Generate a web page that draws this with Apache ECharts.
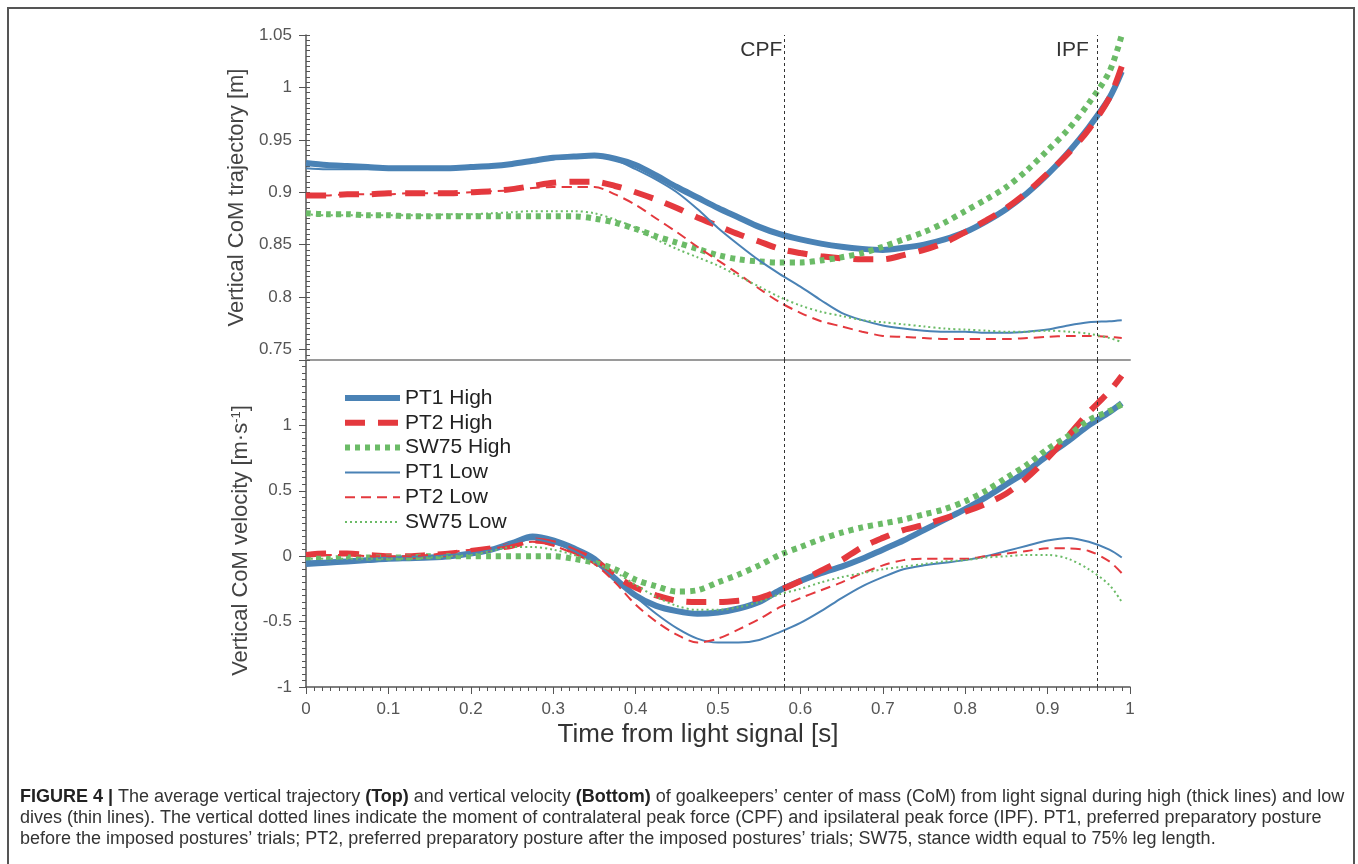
<!DOCTYPE html>
<html>
<head>
<meta charset="utf-8">
<title>Figure 4 - vertical CoM</title>
<script src="https://cdn.jsdelivr.net/npm/echarts@6/dist/echarts.min.js"></script>
<style>
  html, body { margin: 0; padding: 0; background: #fff; }
  #chart { width: 1358px; height: 864px; }
</style>
</head>
<body>
<div id="chart"></div>
<script>
// time from light signal [s], shared by all curves
const timeS = [0, 0.025, 0.05, 0.075, 0.1, 0.125, 0.15, 0.175, 0.2, 0.225,
  0.25, 0.275, 0.3, 0.325, 0.35, 0.375, 0.4, 0.425, 0.45, 0.475,
  0.5, 0.525, 0.55, 0.575, 0.6, 0.625, 0.65, 0.675, 0.7, 0.725,
  0.75, 0.775, 0.8, 0.825, 0.85, 0.875, 0.9, 0.925, 0.95, 0.975,
  0.99];

// top panel: vertical CoM trajectory [m]
const pt1HighPos = [0.928, 0.926, 0.925, 0.924, 0.923, 0.923, 0.923, 0.923, 0.924, 0.925,
  0.927, 0.930, 0.933, 0.934, 0.935, 0.932, 0.926, 0.916, 0.905, 0.895,
  0.885, 0.876, 0.867, 0.860, 0.855, 0.851, 0.848, 0.846, 0.845, 0.847,
  0.850, 0.855, 0.862, 0.872, 0.884, 0.899, 0.917, 0.938, 0.962, 0.990,
  1.015];
const pt2HighPos = [0.897, 0.897, 0.898, 0.898, 0.899, 0.899, 0.899, 0.899, 0.900, 0.901,
  0.903, 0.906, 0.909, 0.910, 0.910, 0.906, 0.900, 0.893, 0.885, 0.876,
  0.868, 0.860, 0.853, 0.846, 0.842, 0.839, 0.837, 0.836, 0.836, 0.840,
  0.845, 0.852, 0.862, 0.873, 0.885, 0.900, 0.918, 0.937, 0.960, 0.990,
  1.020];
const sw75HighPos = [0.880, 0.879, 0.879, 0.878, 0.878, 0.877, 0.877, 0.877, 0.877, 0.877,
  0.877, 0.877, 0.877, 0.877, 0.875, 0.871, 0.865, 0.858, 0.852, 0.846,
  0.840, 0.836, 0.834, 0.833, 0.833, 0.835, 0.838, 0.842, 0.848, 0.855,
  0.862, 0.871, 0.882, 0.893, 0.905, 0.921, 0.940, 0.960, 0.985, 1.015,
  1.050];
const pt1LowPos = [0.923, 0.922, 0.922, 0.922, 0.922, 0.922, 0.922, 0.923, 0.924, 0.925,
  0.927, 0.930, 0.932, 0.933, 0.934, 0.931, 0.922, 0.912, 0.900, 0.884,
  0.866, 0.850, 0.835, 0.822, 0.810, 0.797, 0.785, 0.778, 0.773, 0.770,
  0.768, 0.767, 0.767, 0.766, 0.766, 0.767, 0.769, 0.773, 0.776, 0.777,
  0.778];
const pt2LowPos = [0.897, 0.897, 0.898, 0.898, 0.898, 0.899, 0.899, 0.899, 0.900, 0.901,
  0.902, 0.904, 0.905, 0.905, 0.905, 0.898, 0.888, 0.875, 0.862, 0.848,
  0.835, 0.822, 0.808, 0.795, 0.785, 0.777, 0.772, 0.767, 0.763, 0.762,
  0.761, 0.760, 0.760, 0.760, 0.760, 0.761, 0.762, 0.763, 0.763, 0.762,
  0.761];
const sw75LowPos = [0.879, 0.878, 0.878, 0.878, 0.878, 0.878, 0.878, 0.879, 0.879, 0.880,
  0.881, 0.882, 0.882, 0.882, 0.880, 0.874, 0.866, 0.855, 0.846, 0.838,
  0.830, 0.820, 0.810, 0.800, 0.792, 0.786, 0.782, 0.778, 0.776, 0.774,
  0.772, 0.770, 0.769, 0.768, 0.767, 0.767, 0.768, 0.767, 0.765, 0.761,
  0.757];

// bottom panel: vertical CoM velocity [m/s]
const pt1HighVel = [-0.06, -0.05, -0.04, -0.03, -0.02, -0.015, -0.01, 0.00, 0.02, 0.05,
  0.10, 0.15, 0.12, 0.06, -0.02, -0.17, -0.30, -0.38, -0.42, -0.44,
  -0.43, -0.40, -0.35, -0.26, -0.19, -0.13, -0.08, -0.02, 0.05, 0.12,
  0.20, 0.28, 0.36, 0.45, 0.55, 0.65, 0.77, 0.88, 1.00, 1.10,
  1.17];
const pt2HighVel = [0.01, 0.02, 0.02, 0.01, 0.00, 0.00, 0.01, 0.02, 0.04, 0.06,
  0.08, 0.12, 0.10, 0.04, -0.03, -0.15, -0.24, -0.30, -0.34, -0.35,
  -0.35, -0.34, -0.32, -0.26, -0.19, -0.11, -0.03, 0.07, 0.14, 0.20,
  0.24, 0.29, 0.34, 0.40, 0.48, 0.60, 0.75, 0.92, 1.10, 1.26,
  1.38];
const sw75HighVel = [-0.02, -0.02, -0.01, -0.01, -0.01, -0.01, 0.00, 0.00, 0.00, 0.00,
  0.00, 0.00, 0.00, -0.02, -0.05, -0.10, -0.18, -0.23, -0.27, -0.26,
  -0.20, -0.14, -0.07, 0.01, 0.07, 0.13, 0.18, 0.22, 0.25, 0.28,
  0.32, 0.36, 0.42, 0.50, 0.60, 0.70, 0.82, 0.92, 1.04, 1.11,
  1.16];
const pt1LowVel = [-0.04, -0.035, -0.03, -0.02, -0.01, -0.005, 0.00, 0.01, 0.02, 0.05,
  0.10, 0.13, 0.10, 0.04, -0.05, -0.17, -0.31, -0.44, -0.55, -0.63,
  -0.66, -0.66, -0.64, -0.58, -0.51, -0.42, -0.32, -0.23, -0.16, -0.10,
  -0.07, -0.05, -0.03, 0.00, 0.04, 0.08, 0.12, 0.14, 0.11, 0.05,
  -0.01];
const pt2LowVel = [0.00, 0.01, 0.01, 0.00, 0.00, 0.00, 0.01, 0.03, 0.05, 0.06,
  0.08, 0.11, 0.08, 0.02, -0.06, -0.20, -0.37, -0.50, -0.60, -0.66,
  -0.63, -0.56, -0.48, -0.39, -0.32, -0.26, -0.20, -0.13, -0.07, -0.03,
  -0.02, -0.02, -0.02, 0.00, 0.02, 0.04, 0.06, 0.06, 0.04, -0.04,
  -0.13];
const sw75LowVel = [-0.02, -0.02, -0.02, -0.02, -0.02, -0.02, -0.01, 0.00, 0.01, 0.04,
  0.07, 0.07, 0.05, 0.01, -0.05, -0.12, -0.22, -0.31, -0.38, -0.41,
  -0.41, -0.39, -0.35, -0.29, -0.25, -0.20, -0.16, -0.13, -0.10, -0.08,
  -0.06, -0.04, -0.03, -0.01, 0.00, 0.01, 0.01, -0.02, -0.10, -0.22,
  -0.35];

// CPF / IPF moments [s]
const eventNames = ['CPF', 'IPF'];
const eventTimes = [0.584, 0.956];

const seriesNames = ['PT1 High', 'PT2 High', 'SW75 High', 'PT1 Low', 'PT2 Low', 'SW75 Low'];
const topTicks = [0.75, 0.8, 0.85, 0.9, 0.95, 1, 1.05];

const FONT = '"Liberation Sans", Arial, Helvetica, sans-serif';
const AXIS_COLOR = '#555';

const lineLook = {
  'PT1 High': { color: '#4a82b5', width: 6, type: 'solid' },
  'PT2 High': { color: '#e4393e', width: 6, type: [20, 13] },
  'SW75 High': { color: '#6bbb67', width: 6, type: [5, 5] },
  'PT1 Low': { color: '#4a82b5', width: 2, type: 'solid' },
  'PT2 Low': { color: '#e4393e', width: 2, type: [10, 6] },
  'SW75 Low': { color: '#6bbb67', width: 2, type: [2, 3] }
};

const posData = [pt1HighPos, pt2HighPos, sw75HighPos, pt1LowPos, pt2LowPos, sw75LowPos];
const velData = [pt1HighVel, pt2HighVel, sw75HighVel, pt1LowVel, pt2LowVel, sw75LowVel];

function pairs(values) {
  return timeS.map((t, i) => [t, values[i]]);
}

function makeSeries(name, values, xIdx, yIdx) {
  const look = lineLook[name];
  return {
    name: name,
    type: 'line',
    xAxisIndex: xIdx,
    yAxisIndex: yIdx,
    data: pairs(values),
    symbol: 'none',
    showSymbol: false,
    smooth: 0.3,
    color: look.color,
    lineStyle: { color: look.color, width: look.width, type: look.type, cap: 'butt' }
  };
}

const eventLine = {
  silent: true,
  symbol: 'none',
  label: { show: false },
  lineStyle: { color: '#333', width: 1, type: [3, 3] },
  data: eventTimes.map(t => ({ xAxis: t }))
};

const series = [];
seriesNames.forEach((name, i) => {
  const s = makeSeries(name, posData[i], 0, 0);
  if (i === 0) {
    s.markLine = eventLine;
    s.markPoint = {
      silent: true,
      symbol: 'circle',
      symbolSize: 2,
      itemStyle: { color: 'rgba(0,0,0,0)' },
      label: {
        show: true, formatter: '{b}', position: 'left', distance: 4, offset: [0, 15],
        fontSize: 21, color: '#333', fontFamily: FONT
      },
      data: eventNames.map((n, k) => ({ name: n, coord: [eventTimes[k], 1.05] }))
    };
  }
  series.push(s);
});
seriesNames.forEach((name, i) => {
  const s = makeSeries(name, velData[i], 1, 2);
  if (i === 0) s.markLine = eventLine;
  series.push(s);
});

const captionLines = [
  '{b|FIGURE 4 |} The average vertical trajectory {b|(Top)} and vertical velocity {b|(Bottom)} of goalkeepers’ center of mass (CoM) from light signal during high (thick lines) and low',
  'dives (thin lines). The vertical dotted lines indicate the moment of contralateral peak force (CPF) and ipsilateral peak force (IPF). PT1, preferred preparatory posture',
  'before the imposed postures’ trials; PT2, preferred preparatory posture after the imposed postures’ trials; SW75, stance width equal to 75% leg length.'
];

const chart = echarts.init(document.getElementById('chart'));

chart.setOption({
  animation: false,
  backgroundColor: '#fff',
  textStyle: { fontFamily: FONT },
  grid: [
    { left: 306, top: 35, width: 824, height: 325 },
    { left: 306, top: 360, width: 824, height: 327 }
  ],
  legend: {
    data: seriesNames,
    orient: 'vertical',
    left: 337,
    top: 381,
    itemWidth: 55,
    itemHeight: 14,
    itemGap: 0.8,
    selectedMode: false,
    lineStyle: { width: 'inherit' },
    itemStyle: { color: 'rgba(0,0,0,0)', borderWidth: 0, opacity: 0 },
    textStyle: { fontSize: 21, color: '#222', lineHeight: 24, fontFamily: FONT }
  },
  xAxis: [
    {
      gridIndex: 0, type: 'value', min: 0, max: 1, interval: 0.1,
      axisLine: { show: true, onZero: false, lineStyle: { color: '#9a9a9a', width: 2 } },
      axisTick: { show: false }, axisLabel: { show: false }, splitLine: { show: false }
    },
    {
      gridIndex: 1, type: 'value', min: 0, max: 1, interval: 0.1,
      axisLine: { show: true, onZero: false, lineStyle: { color: AXIS_COLOR, width: 1.5 } },
      axisTick: { show: true, length: 7, lineStyle: { color: AXIS_COLOR } },
      minorTick: { show: true, splitNumber: 10, length: 4, lineStyle: { color: AXIS_COLOR } },
      axisLabel: { fontSize: 17, color: '#555', margin: 14 },
      splitLine: { show: false },
      name: 'Time from light signal [s]',
      nameLocation: 'middle',
      nameGap: 35,
      nameTextStyle: { fontSize: 26, color: '#333', padding: [0, 40, 0, 0] }
    }
  ],
  yAxis: [
    {
      gridIndex: 0, type: 'value', min: 0.74, max: 1.05,
      axisLine: { show: true, onZero: false, lineStyle: { color: AXIS_COLOR, width: 1.5 } },
      axisTick: { show: true, length: 7, customValues: topTicks, lineStyle: { color: AXIS_COLOR } },
      axisLabel: { customValues: topTicks, fontSize: 17, color: '#555', margin: 14 },
      splitLine: { show: false },
      name: 'Vertical CoM trajectory [m]',
      nameLocation: 'middle',
      nameGap: 53,
      nameTextStyle: { fontSize: 22, color: '#444' }
    },
    {
      // minor ticks of the trajectory axis
      gridIndex: 0, type: 'value', min: 0.74, max: 1.05, interval: 0.005,
      axisLine: { show: false },
      axisTick: { show: true, length: 4, lineStyle: { color: AXIS_COLOR } },
      axisLabel: { show: false },
      splitLine: { show: false }
    },
    {
      gridIndex: 1, type: 'value', min: -1, max: 1.5, interval: 0.5,
      axisLine: { show: true, onZero: false, lineStyle: { color: AXIS_COLOR, width: 1.5 } },
      axisTick: { show: true, length: 7, lineStyle: { color: AXIS_COLOR } },
      minorTick: { show: true, splitNumber: 10, length: 4, lineStyle: { color: AXIS_COLOR } },
      axisLabel: {
        fontSize: 17, color: '#555', margin: 14,
        formatter: v => (v === 1.5 ? '' : String(v))
      },
      splitLine: { show: false },
      name: 'Vertical CoM velocity [m·s{sup|-1}]',
      nameLocation: 'middle',
      nameGap: 53,
      nameTextStyle: {
        fontSize: 22, color: '#444', padding: [0, 34, 0, 0],
        rich: { sup: { fontSize: 13, color: '#444', verticalAlign: 'top' } }
      }
    }
  ],
  series: series,
  graphic: [
    {
      type: 'rect', z: -10, silent: true,
      shape: { x: 8, y: 8, width: 1346, height: 900 },
      style: { fill: 'none', stroke: '#555', lineWidth: 2 }
    }
  ].concat(captionLines.map((txt, i) => ({
    type: 'text', silent: true,
    x: 20, y: 797 + i * 21,
    style: {
      text: txt,
      fill: '#333',
      font: '18px ' + FONT,
      verticalAlign: 'middle',
      rich: { b: { fontWeight: 'bold', fontSize: 18, fontFamily: FONT, fill: '#222' } }
    }
  })))
});
</script>
</body>
</html>
